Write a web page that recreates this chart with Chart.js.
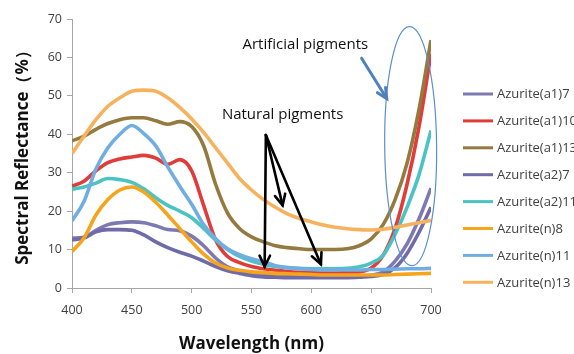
<!DOCTYPE html>
<html>
<head>
<meta charset="utf-8">
<script src="https://cdn.jsdelivr.net/npm/chart.js@4"></script>
<style>
  html, body { margin: 0; padding: 0; background: #fff; overflow: hidden; }
  #c { display: block; }
</style>
</head>
<body>
<canvas id="c" width="574" height="354"></canvas>
<script>
// ---- data ----
const wavelengths = [400,410,420,430,440,450,460,470,480,490,500,510,520,530,540,550,560,570,580,590,600,610,620,630,640,650,660,670,680,690,700];

const seriesNames = ["Azurite(a1)7","Azurite(a1)10","Azurite(a1)13","Azurite(a2)7","Azurite(a2)11","Azurite(n)8","Azurite(n)11","Azurite(n)13"];

const azuriteA1_7  = [13,13.2,15,16.5,17,17.2,17,16.2,15.2,14.9,13.5,11,7.8,5.5,4.5,3.8,3.4,3.2,3.1,3.0,3.0,3.0,3.0,3.0,3.1,3.3,4.2,7,11.5,18,26];
const azuriteA1_10 = [26.5,27.8,30.5,32.6,33.6,34.1,34.5,33.8,32.2,33.4,30.5,21.5,12.5,8.2,6.6,5.6,5.0,4.6,4.3,4.1,4.0,3.9,3.9,4.0,4.2,5.2,8.5,15.5,27,42,61];
const azuriteA1_13 = [38.3,39.5,41.3,42.8,43.8,44.3,44.3,43.5,42.6,43.3,42,37,27,19.5,15.5,13.3,12,11,10.5,10.2,10,10,10,10.2,11,12.8,16.5,23,32.5,46.5,64.5];
const azuriteA2_7  = [12.5,13,14.6,15.2,15.2,15,13.8,12,10.5,9.3,8.3,7,5.6,4.5,3.8,3.2,2.9,2.8,2.7,2.7,2.7,2.7,2.7,2.7,2.8,3,3.5,5.3,9,14.5,21];
const azuriteA2_11 = [25.7,26.3,27.3,28.5,28.2,27.5,25.8,23.5,21.5,20,18.3,15.5,12.5,10,8.2,7,6.2,5.6,5.3,5.1,5,5,5,5.1,5.5,6.5,8.5,14,21,29.5,41];
const azuriteN_8   = [9.5,13,19,23,25.5,26.3,25,22.3,19,15.5,12,8.8,6.5,5.2,4.6,4.2,4,3.8,3.7,3.6,3.5,3.4,3.4,3.4,3.4,3.4,3.4,3.5,3.6,3.7,3.8];
const azuriteN_11  = [17.5,22.5,31,36.5,40,42.3,40.2,37,31.5,26.5,21.8,16.5,12.8,10.2,8.7,7.6,6.8,5.8,5.3,5.0,4.8,4.7,4.7,4.7,4.7,4.8,4.8,4.9,5,5,5.1];
const azuriteN_13  = [35,39.5,43.8,47.3,49.5,51.2,51.5,51.2,49.5,47,44,40.5,36.5,32.5,28.5,25.5,23,21,19.3,18.1,17.2,16.4,15.8,15.4,15.2,15.1,15.3,15.8,16.4,17,17.6];

const xTicks = [400,450,500,550,600,650,700];
const yTicks = [0,10,20,30,40,50,60,70];

const seriesValues = [azuriteA1_7, azuriteA1_10, azuriteA1_13, azuriteA2_7, azuriteA2_11, azuriteN_8, azuriteN_11, azuriteN_13];
const seriesColors = ["#7d79b3","#e03d3a","#957a40","#6f6aa8","#4bc3c3","#f6a41c","#70ade0","#f7b25e"];

// annotation positions in data units (wavelength, %)
const natArrowStart = [562, 39.8];
const natArrowTips = [[561, 5.6],[576, 21.5],[608, 6.2]];
const artArrow = [[642, 59.8],[663, 49.3]];
const ellipseData = {cx: 683, cy: 36.9, rx: 21.7, ry: 31.1};
const labelArtificial = {text: "Artificial pigments", x: 595, y: 63.2};
const labelNatural = {text: "Natural pigments", x: 576, y: 45};

const FONT = "'Open Sans', 'Noto Sans', sans-serif";

const datasets = seriesNames.map((name, i) => ({
  label: name,
  data: wavelengths.map((w, j) => ({x: w, y: seriesValues[i][j]})),
  borderColor: seriesColors[i],
  backgroundColor: seriesColors[i],
  borderWidth: 3.6,
  pointRadius: 0,
  tension: 0.4,
  cubicInterpolationMode: 'monotone',
  fill: false,
  order: seriesNames.length - i
}));

function arrow(ctx, x1, y1, x2, y2, color, width, head) {
  ctx.save();
  ctx.strokeStyle = color;
  ctx.lineWidth = width;
  ctx.lineCap = 'round';
  ctx.beginPath();
  ctx.moveTo(x1, y1);
  ctx.lineTo(x2, y2);
  ctx.stroke();
  const a = Math.atan2(y2 - y1, x2 - x1);
  ctx.beginPath();
  ctx.moveTo(x2 - head * Math.cos(a - 0.45), y2 - head * Math.sin(a - 0.45));
  ctx.lineTo(x2, y2);
  ctx.lineTo(x2 - head * Math.cos(a + 0.45), y2 - head * Math.sin(a + 0.45));
  ctx.stroke();
  ctx.restore();
}

const annotationsPlugin = {
  id: 'annots',
  afterDatasetsDraw(chart) {
    const ctx = chart.ctx;
    const xs = chart.scales.x, ys = chart.scales.y;
    const px = v => xs.getPixelForValue(v), py = v => ys.getPixelForValue(v);
    // ellipse
    ctx.save();
    ctx.strokeStyle = '#5b8fcb';
    ctx.lineWidth = 1.2;
    ctx.beginPath();
    const cx = px(ellipseData.cx), cy = py(ellipseData.cy);
    const rx = px(ellipseData.cx + ellipseData.rx) - cx;
    const ry = cy - py(ellipseData.cy + ellipseData.ry);
    ctx.ellipse(cx, cy, rx, ry, -0.01, 0, Math.PI * 2);
    ctx.stroke();
    ctx.restore();
    // texts
    ctx.save();
    ctx.fillStyle = '#111';
    ctx.font = "15px " + FONT;
    ctx.textAlign = 'center';
    ctx.textBaseline = 'middle';
    ctx.fillText(labelArtificial.text, px(labelArtificial.x), py(labelArtificial.y));
    ctx.fillText(labelNatural.text, px(labelNatural.x), py(labelNatural.y));
    ctx.restore();
    // arrows
    arrow(ctx, px(artArrow[0][0]), py(artArrow[0][1]), px(artArrow[1][0]), py(artArrow[1][1]), '#4f81bd', 3, 11);
    natArrowTips.forEach(t => {
      arrow(ctx, px(natArrowStart[0]), py(natArrowStart[1]), px(t[0]), py(t[1]), '#000', 2.6, 12);
    });
  },
  afterDraw(chart) {
    // legend on the right
    const ctx = chart.ctx;
    ctx.save();
    ctx.font = "13px " + FONT;
    ctx.textBaseline = 'middle';
    ctx.textAlign = 'left';
    chart.data.datasets.forEach((ds, i) => {
      const y = 94 + i * 26.9;
      ctx.strokeStyle = ds.borderColor;
      ctx.lineWidth = 3;
      ctx.beginPath();
      ctx.moveTo(463, y);
      ctx.lineTo(493, y);
      ctx.stroke();
      ctx.fillStyle = '#404040';
      ctx.fillText(ds.label, 497, y + 0.5);
    });
    ctx.restore();
  }
};

new Chart(document.getElementById('c'), {
  type: 'line',
  data: { datasets },
  options: {
    responsive: false,
    animation: false,
    layout: { padding: { top: 19, right: 143, left: 0, bottom: 0 } },
    plugins: { legend: { display: false }, tooltip: { enabled: false } },
    scales: {
      x: {
        type: 'linear',
        min: 400, max: 700,
        afterBuildTicks: s => { s.ticks = xTicks.map(v => ({value: v})); },
        afterFit: s => { s.height = 66; },
        grid: { display: true, drawOnChartArea: false, drawTicks: true, tickLength: 5, color: '#a6a6a6' },
        border: { display: true, color: '#a6a6a6', width: 1 },
        ticks: { color: '#404040', font: { family: FONT, size: 12.5 }, padding: 10, maxRotation: 0 },
        title: { display: true, text: 'Wavelength (nm)', color: '#111', font: { family: FONT, size: 17, weight: 'bold' }, padding: { top: 0, bottom: 0 } }
      },
      y: {
        type: 'linear',
        min: 0, max: 70,
        afterBuildTicks: s => { s.ticks = yTicks.map(v => ({value: v})); },
        afterFit: s => { s.width = 72; },
        grid: { display: true, drawOnChartArea: false, drawTicks: true, tickLength: 5, color: '#a6a6a6' },
        border: { display: true, color: '#a6a6a6', width: 1 },
        ticks: { color: '#404040', font: { family: FONT, size: 12.5 }, padding: 5 },
        title: { display: true, text: 'Spectral Reflectance（%）', color: '#111', font: { family: FONT, size: 17, weight: 'bold' }, padding: { top: 13, bottom: 0 } }
      }
    }
  },
  plugins: [annotationsPlugin]
});
</script>
</body>
</html>
